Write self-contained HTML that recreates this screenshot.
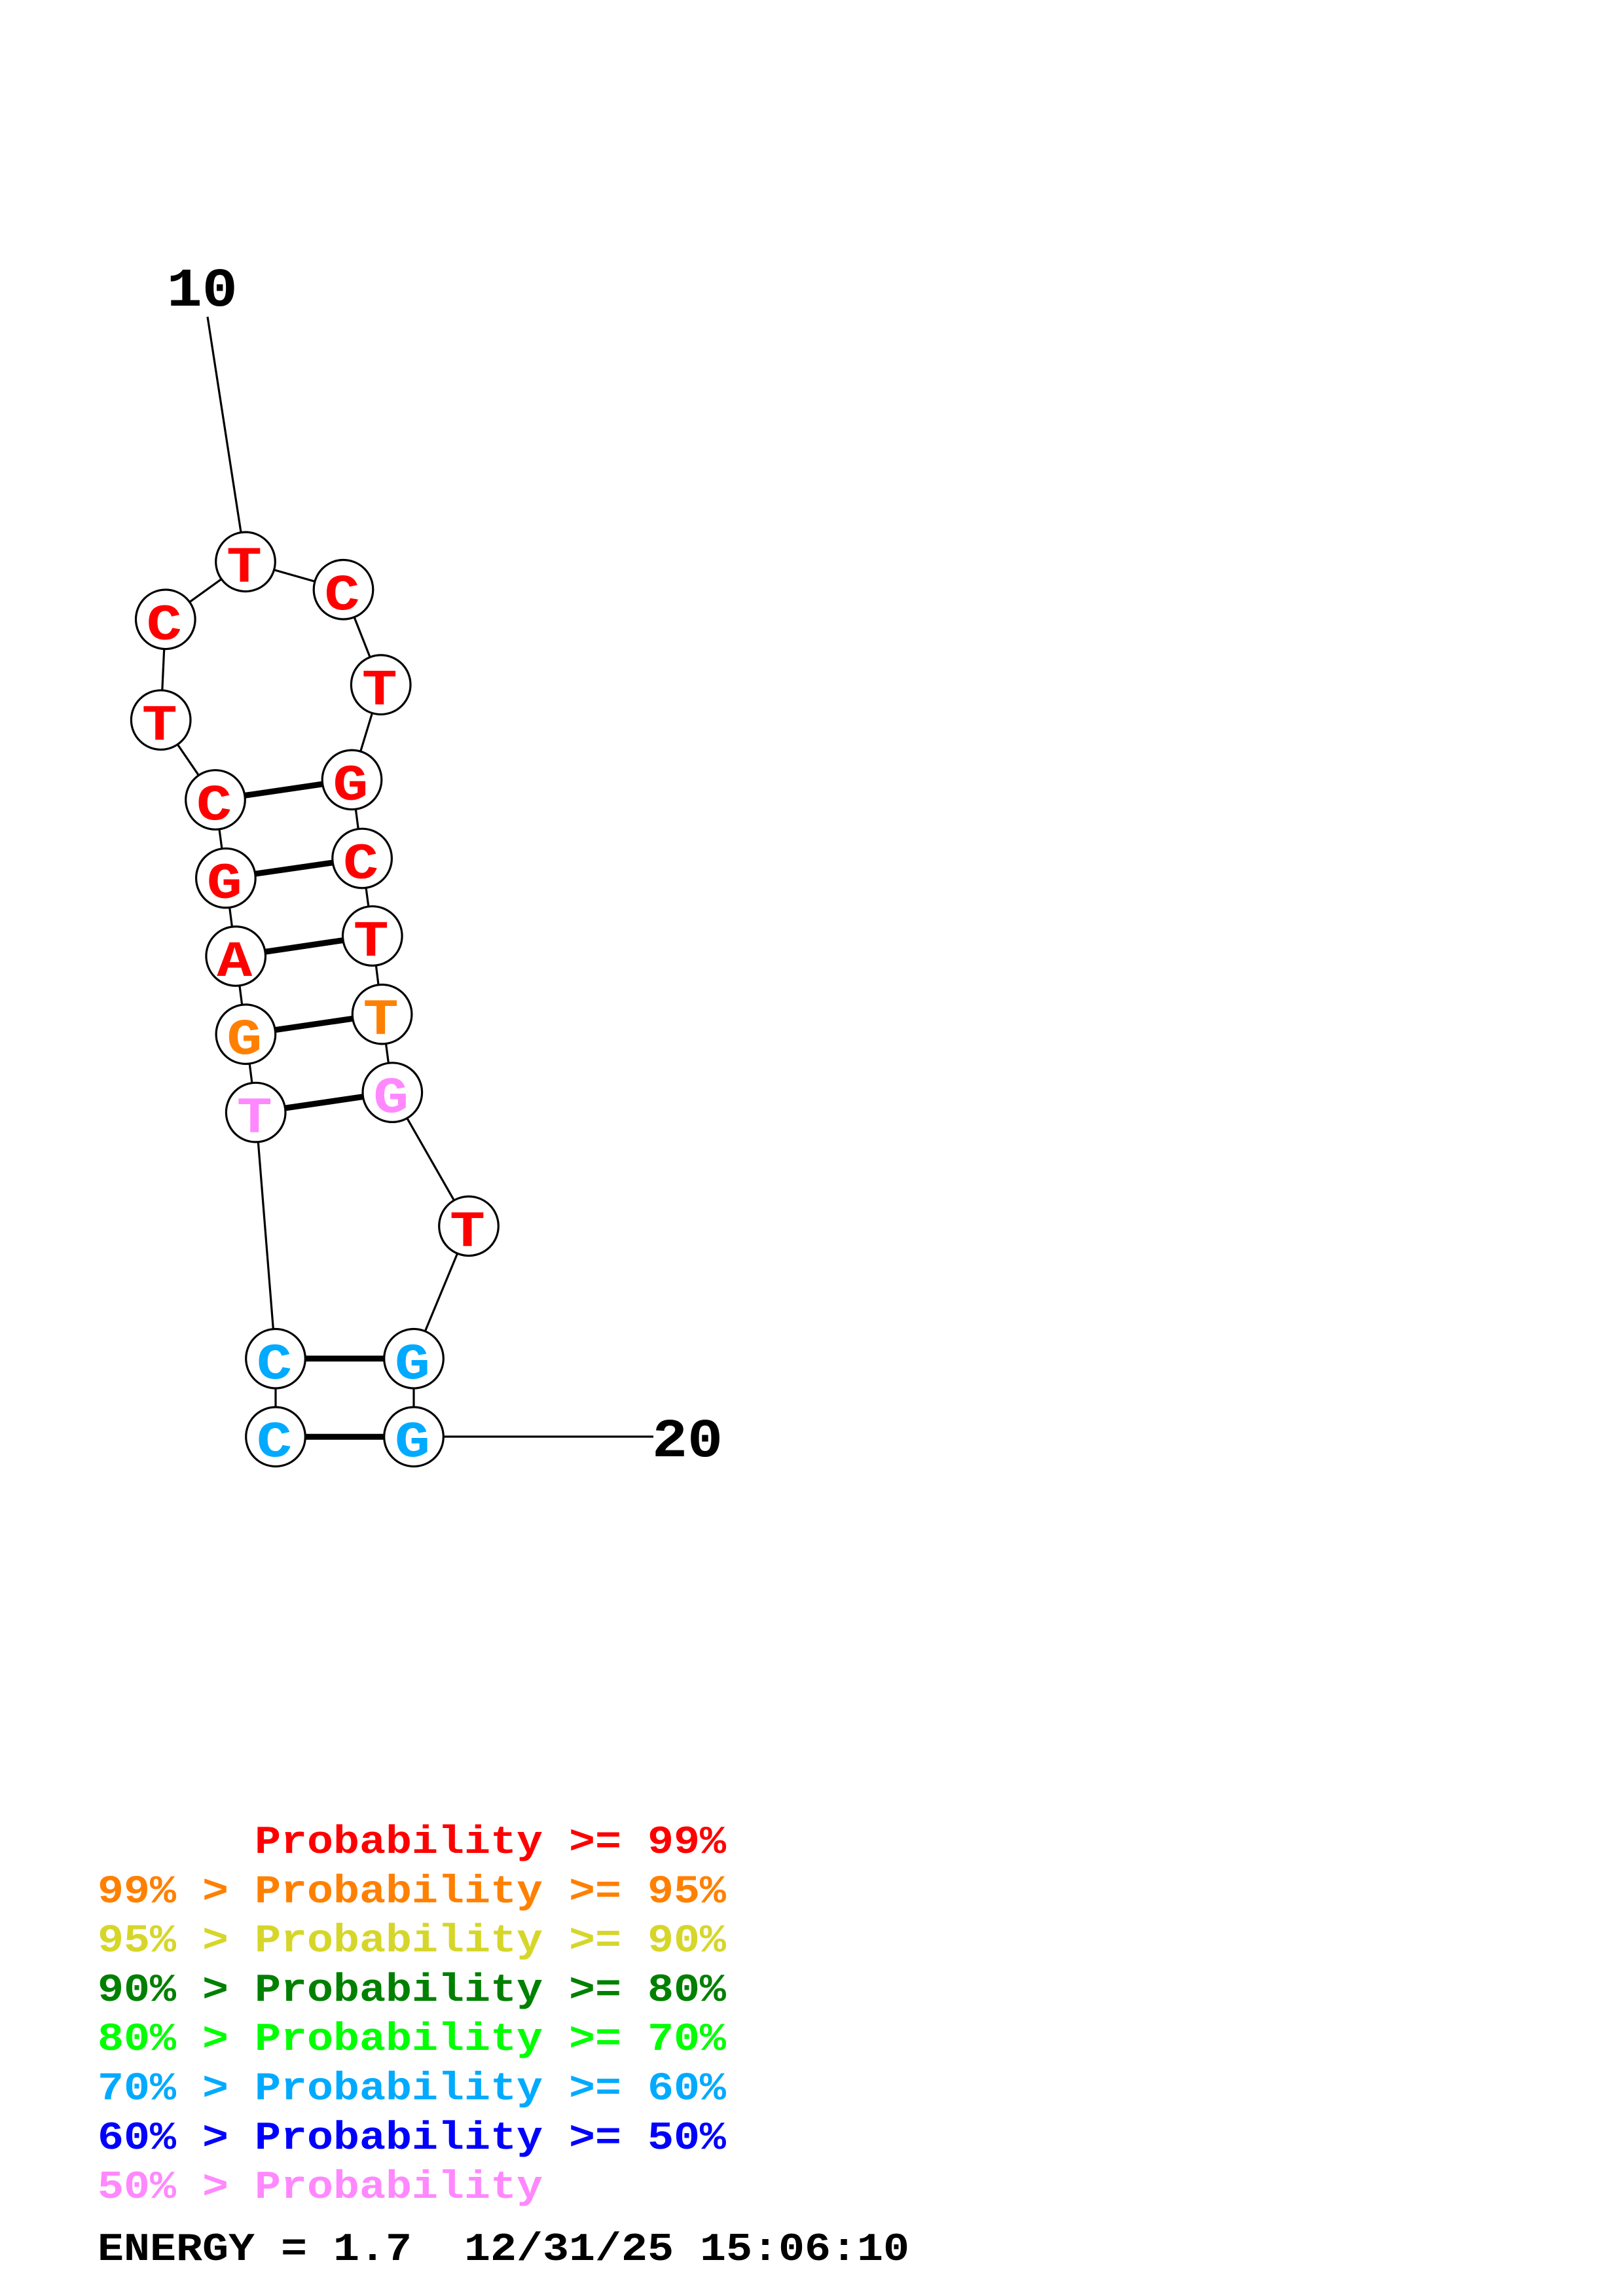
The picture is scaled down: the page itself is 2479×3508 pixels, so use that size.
<!DOCTYPE html>
<html>
<head>
<meta charset="utf-8">
<style>
html,body{margin:0;padding:0;background:#fff;}
svg{display:block;}
.b{font-family:"Liberation Mono","DejaVu Sans Mono",monospace;font-weight:bold;}
.lg{font-family:"Liberation Mono","DejaVu Sans Mono",monospace;font-weight:bold;font-size:66.67px;}
</style>
</head>
<body>
<svg width="2479" height="3508" viewBox="0 0 2479 3508" xmlns="http://www.w3.org/2000/svg">
<rect x="0" y="0" width="2479" height="3508" fill="#fff"/>
<!-- label pointer lines -->
<g stroke="#000" stroke-width="3.2" fill="none">
<line x1="317" y1="484" x2="375" y2="858.3"/>
<line x1="632" y1="2195" x2="998" y2="2195"/>
<!-- backbone -->
<polyline points="421,2195.2 421,2075.8 390.7,1699.6 375.4,1580.2 360.2,1460.9 344.9,1341.6 329,1222 245.7,1100 252.8,946.3 375,858.3 524.5,900.8 581.7,1046.2 537.5,1191.4 553.1,1311.5 568.8,1430 583.6,1549.7 599.3,1669.1 716,1873.3 632,2075.8 632,2195.2"/>
</g>
<!-- pair bonds -->
<g stroke="#000" stroke-width="9" fill="none">
<line x1="421" y1="2195.2" x2="632" y2="2195.2"/>
<line x1="421" y1="2075.8" x2="632" y2="2075.8"/>
<line x1="390.7" y1="1699.6" x2="599.3" y2="1669.1"/>
<line x1="375.4" y1="1580.2" x2="583.6" y2="1549.7"/>
<line x1="360.2" y1="1460.9" x2="568.8" y2="1430"/>
<line x1="344.9" y1="1341.6" x2="553.1" y2="1311.5"/>
<line x1="329" y1="1222" x2="537.5" y2="1191.4"/>
</g>
<!-- nodes -->
<g stroke="#000" stroke-width="3.2" fill="#fff">
<circle cx="421" cy="2195.2" r="45.3"/>
<circle cx="421" cy="2075.8" r="45.3"/>
<circle cx="390.7" cy="1699.6" r="45.3"/>
<circle cx="375.4" cy="1580.2" r="45.3"/>
<circle cx="360.2" cy="1460.9" r="45.3"/>
<circle cx="344.9" cy="1341.6" r="45.3"/>
<circle cx="329" cy="1222" r="45.3"/>
<circle cx="245.7" cy="1100" r="45.3"/>
<circle cx="252.8" cy="946.3" r="45.3"/>
<circle cx="375" cy="858.3" r="45.3"/>
<circle cx="524.5" cy="900.8" r="45.3"/>
<circle cx="581.7" cy="1046.2" r="45.3"/>
<circle cx="537.5" cy="1191.4" r="45.3"/>
<circle cx="553.1" cy="1311.5" r="45.3"/>
<circle cx="568.8" cy="1430" r="45.3"/>
<circle cx="583.6" cy="1549.7" r="45.3"/>
<circle cx="599.3" cy="1669.1" r="45.3"/>
<circle cx="716" cy="1873.3" r="45.3"/>
<circle cx="632" cy="2075.8" r="45.3"/>
<circle cx="632" cy="2195.2" r="45.3"/>
</g>
<!-- base letters -->
<g class="b" font-size="90" text-anchor="middle">
<text transform="translate(419,2225.2) scale(1,0.87)" fill="#00aaff">C</text>
<text transform="translate(419,2105.8) scale(1,0.87)" fill="#00aaff">C</text>
<text transform="translate(388.7,1729.6) scale(1,0.87)" fill="#ff88ff">T</text>
<text transform="translate(373.4,1610.2) scale(1,0.87)" fill="#ff8000">G</text>
<text transform="translate(358.2,1490.9) scale(1,0.87)" fill="#ff0000">A</text>
<text transform="translate(342.9,1371.6) scale(1,0.87)" fill="#ff0000">G</text>
<text transform="translate(327,1252) scale(1,0.87)" fill="#ff0000">C</text>
<text transform="translate(243.7,1130) scale(1,0.87)" fill="#ff0000">T</text>
<text transform="translate(250.8,976.3) scale(1,0.87)" fill="#ff0000">C</text>
<text transform="translate(373,888.3) scale(1,0.87)" fill="#ff0000">T</text>
<text transform="translate(522.5,930.8) scale(1,0.87)" fill="#ff0000">C</text>
<text transform="translate(579.7,1076.2) scale(1,0.87)" fill="#ff0000">T</text>
<text transform="translate(535.5,1221.4) scale(1,0.87)" fill="#ff0000">G</text>
<text transform="translate(551.1,1341.5) scale(1,0.87)" fill="#ff0000">C</text>
<text transform="translate(566.8,1460) scale(1,0.87)" fill="#ff0000">T</text>
<text transform="translate(581.6,1579.7) scale(1,0.87)" fill="#ff8000">T</text>
<text transform="translate(597.3,1699.1) scale(1,0.87)" fill="#ff88ff">G</text>
<text transform="translate(714,1903.3) scale(1,0.87)" fill="#ff0000">T</text>
<text transform="translate(630,2105.8) scale(1,0.87)" fill="#00aaff">G</text>
<text transform="translate(630,2225.2) scale(1,0.87)" fill="#00aaff">G</text>
</g>
<!-- numeric labels -->
<g class="b" font-size="90" text-anchor="middle" fill="#000">
<text transform="translate(308.7,467) scale(1,0.93)">10</text>
<text transform="translate(1050,2225) scale(1,0.93)">20</text>
</g>
<!-- legend -->
<g class="lg">
<text transform="translate(389,2831) scale(1,0.9)" fill="#ff0000">Probability &gt;= 99%</text>
<text transform="translate(149,2906.3) scale(1,0.9)" fill="#ff8000">99% &gt; Probability &gt;= 95%</text>
<text transform="translate(149,2981.6) scale(1,0.9)" fill="#d6d62a">95% &gt; Probability &gt;= 90%</text>
<text transform="translate(149,3056.9) scale(1,0.9)" fill="#008000">90% &gt; Probability &gt;= 80%</text>
<text transform="translate(149,3132.2) scale(1,0.9)" fill="#00ff00">80% &gt; Probability &gt;= 70%</text>
<text transform="translate(149,3207.5) scale(1,0.9)" fill="#00aaff">70% &gt; Probability &gt;= 60%</text>
<text transform="translate(149,3282.8) scale(1,0.9)" fill="#0000ff">60% &gt; Probability &gt;= 50%</text>
<text transform="translate(149,3358) scale(1,0.9)" fill="#ff88ff">50% &gt; Probability</text>
<text transform="translate(149,3453) scale(1,0.9)" fill="#000">ENERGY = 1.7</text>
<text transform="translate(709,3453) scale(1,0.9)" fill="#000">12/31/25 15:06:10</text>
</g>
</svg>
</body>
</html>
